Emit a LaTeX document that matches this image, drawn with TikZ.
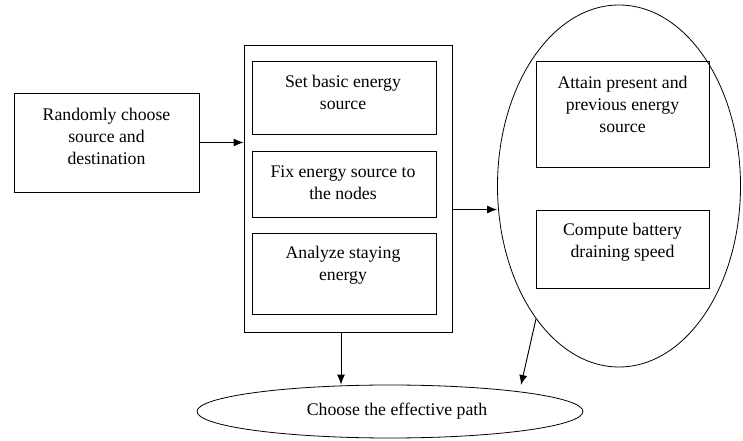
\documentclass[tikz,border=0pt]{standalone}
\usepackage{fontspec}
\setmainfont{Liberation Serif}
\usetikzlibrary{shapes.geometric,arrows.meta}

\begin{document}
\begin{tikzpicture}[x=0.75pt,y=0.75pt,yscale=-1,xscale=1,
  box/.style={draw,line width=0.7pt,rectangle,inner sep=0pt},
  oval/.style={draw,line width=0.6pt,ellipse,inner sep=0pt},
  txt/.style={align=center,inner sep=0pt,font=\fontsize{13.3pt}{16.5pt}\selectfont},
  arr/.style={line width=0.7pt,-{Latex[length=7.5pt,width=6pt]}}]
\useasboundingbox (0,0) rectangle (743,441);

%Shape: left box
\node [box,minimum width=138.75pt,minimum height=74.25pt] (rand) at (106.5,142.5) {};
% Text Node
\node [txt] (randtxt) at (106.5,136) {Randomly choose\\source and\\destination};

%Shape: outer box
\node [box,minimum width=156pt,minimum height=215.25pt] (outer) at (348,188.5) {};
%Shape: inner boxes
\node [box,minimum width=138pt,minimum height=54.75pt] (setb) at (344,97.5) {};
\node [box,minimum width=138pt,minimum height=49.5pt] (fixb) at (344,184) {};
\node [box,minimum width=138pt,minimum height=60.75pt] (anab) at (344,273.5) {};
% Text Node
\node [txt] (settxt) at (343,92.5) {Set basic energy\\source};
% Text Node
\node [txt] (fixtxt) at (343,182.5) {Fix energy source to\\the nodes};
% Text Node
\node [txt] (anatxt) at (343,265.5) {Analyze staying\\energy};

%Shape: energy ellipse
\node [oval,minimum width=182.25pt,minimum height=271.5pt] (energy) at (619,186) {};
\node [box,minimum width=129.75pt,minimum height=79.5pt] (attb) at (622.5,114) {};
\node [box,minimum width=129.75pt,minimum height=58.5pt] (compb) at (622.5,249) {};
% Text Node
\node [txt] (atttxt) at (622.5,104.5) {Attain present and\\previous energy\\source};
% Text Node
\node [txt] (comptxt) at (622.5,242.5) {Compute battery\\draining speed};

%Shape: path ellipse
\node [oval,minimum width=289.5pt,minimum height=39.75pt] (path) at (390,411.5) {};
% Text Node
\node [txt] (pathtxt) at (397,411) {Choose the effective path};

%Straight Lines
\draw [arr] (rand.east) -- (rand.east -| outer.west);
\draw [arr] (outer.east |- compb.north) -- (compb.north -| energy.west);
\draw [arr] ([xshift=-5.25pt]outer.south) -- ([xshift=-5.25pt]outer.south |- path.north);
\coordinate (tip) at (521,385);
\draw [arr] (energy.238) -- (tip);

\end{tikzpicture}
\end{document}
